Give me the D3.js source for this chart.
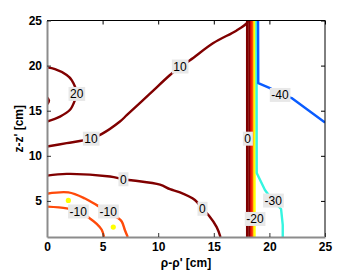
<!DOCTYPE html>
<html>
<head>
<meta charset="utf-8">
<script src="https://cdn.jsdelivr.net/npm/d3@7"></script>
<style>
	body { margin: 0; background: #fff; }
	svg { display: block; font-family: 'Liberation Sans', Arial, sans-serif; }
	.tick text { font-size: 12px; font-weight: bold; fill: #000; }
</style>
</head>
<body>
<svg id="chart" width="346" height="279"></svg>
<script>
// tick labels
var xTicks = [0, 5, 10, 15, 20, 25];
var yTicks = [5, 10, 15, 20, 25];

// contour lines, [rho, z] in cm
var line20 = [[0, 19.8], [0.72, 19.6], [1.77, 18.96], [2.22, 18.4], [2.67, 16.86], [2.52, 16.2], [2.07, 15.1], [1.17, 14.35], [0, 13.8]];
var line20dot = [[0, 16.5], [0.18, 16.1], [0, 15.7]];
var line10 = [[0, 11.03], [1.77, 11.4], [3.96, 11.9], [4.9, 12.4], [6.56, 13.8], [7.17, 14.5], [9.26, 16.9], [11.06, 18.96], [11.96, 19.9], [12.86, 20.6], [14.96, 22.5], [17.06, 23.9], [18.0, 24.75], [18.05, 25]];
var line10band = [[18.0, 25], [18.0, 1]];
var line0 = [[0, 7.8], [1.77, 8.0], [5.67, 7.7], [6.86, 7.4], [7.76, 7.26], [10.16, 6.8], [11.06, 6.3], [11.96, 5.95], [13.3, 5.1], [13.97, 4.13], [14.57, 3.35], [15.26, 2.1], [15.6, 1]];
var line0band = [[18.2, 25], [18.2, 1]];
var lineM5band = [[18.36, 25], [18.36, 1]];
var lineM10a = [[0, 4.37], [1.77, 4.18], [2.88, 3.82], [3.71, 3.2], [4.47, 2.45], [4.92, 1.8], [5.13, 1.0]];
var lineM10b = [[0, 5.8], [1.92, 5.94], [3.42, 5.27], [4.47, 4.53], [5.42, 3.82], [6.27, 3.2], [6.72, 2.72], [7.01, 1.75], [7.26, 1.0]];
var lineM10band = [[18.5, 25], [18.5, 1]];
var lineM20band = [[18.66, 25], [18.66, 1]];
var lineM30 = [[18.84, 25], [18.86, 8.1], [19.6, 6.2], [20.3, 5.05], [21.05, 4.1], [21.2, 2.35], [21.2, 1]];
var lineM40 = [[18.98, 25], [19.0, 18.05], [20.05, 17.5], [20.95, 16.85], [22.0, 16.4], [25, 13.7]];
var spotsM20 = [[1.92, 5.05], [5.96, 2.1]];

var lines = [
	{ level: 20, pts: line20dot, smooth: true },
	{ level: 20, pts: line20, smooth: true },
	{ level: 10, pts: line10, smooth: true },
	{ level: 10, pts: line10band },
	{ level: 0, pts: line0, smooth: true },
	{ level: 0, pts: line0band },
	{ level: -5, pts: lineM5band },
	{ level: -10, pts: lineM10a, smooth: true },
	{ level: -10, pts: lineM10b, smooth: true },
	{ level: -10, pts: lineM10band },
	{ level: -20, pts: lineM20band },
	{ level: -30, pts: lineM30 },
	{ level: -40, pts: lineM40 }
];

// inline contour labels
var labels = [
	{ text: '20', x: 2.67, y: 16.86 },
	{ text: '10', x: 3.96, y: 11.9 },
	{ text: '10', x: 11.96, y: 19.9 },
	{ text: '0', x: 6.86, y: 7.4 },
	{ text: '0', x: 13.97, y: 4.13 },
	{ text: '0', x: 18.05, y: 11.9 },
	{ text: '-10', x: 2.81, y: 3.83 },
	{ text: '-10', x: 5.51, y: 3.83 },
	{ text: '-20', x: 18.7, y: 3.0 },
	{ text: '-30', x: 20.35, y: 5.04 },
	{ text: '-40', x: 20.95, y: 16.75 }
];

var levelColors = { '20': '#800000', '10': '#800000', '0': '#800000', '-5': '#d80808', '-10': '#ff4a0a', '-20': '#ffff00', '-30': '#35f5e0', '-40': '#0a5cff' };

var params = { left: 47, right: 325, top: 20.5, bottom: 237 };

var svg = d3.select('#chart');

var xScale = d3.scaleLinear().domain([0, 25]).range([params.left, params.right]);
var yScale = d3.scaleLinear().domain([1, 25]).range([params.bottom, params.top]);

svg.append('defs').append('clipPath').attr('id', 'plot-clip')
	.append('rect')
		.attr('x', params.left)
		.attr('y', params.top)
		.attr('width', params.right - params.left)
		.attr('height', params.bottom - params.top);

var graphArea = svg.append('g').attr('clip-path', 'url(#plot-clip)');

var lineGen = d3.line()
	.x(function(d) { return xScale(d[0]); })
	.y(function(d) { return yScale(d[1]); });
var smoothGen = d3.line()
	.x(function(d) { return xScale(d[0]); })
	.y(function(d) { return yScale(d[1]); })
	.curve(d3.curveCatmullRom.alpha(0.5));

graphArea.selectAll('.contour').data(lines).enter().append('path')
	.attr('class', 'contour')
	.attr('d', function(d) { return d.smooth ? smoothGen(d.pts) : lineGen(d.pts); })
	.attr('fill', 'none')
	.attr('stroke', function(d) { return levelColors[d.level]; })
	.attr('stroke-width', 2.4)
	.attr('stroke-linejoin', 'round');

graphArea.selectAll('.spot').data(spotsM20).enter().append('circle')
	.attr('cx', function(d) { return xScale(d[0]); })
	.attr('cy', function(d) { return yScale(d[1]); })
	.attr('r', 2.6)
	.attr('fill', levelColors['-20']);

// labels with grey boxes
var labelG = svg.selectAll('.clabel').data(labels).enter().append('g')
	.attr('class', 'clabel')
	.attr('transform', function(d) { return 'translate(' + xScale(d.x) + ',' + yScale(d.y) + ')'; });

labelG.append('text')
	.attr('text-anchor', 'middle')
	.attr('dy', '0.36em')
	.attr('font-size', 12)
	.text(function(d) { return d.text; });

labelG.each(function() {
	var g = d3.select(this);
	var bb = g.select('text').node().getBBox();
	g.insert('rect', 'text')
		.attr('x', bb.x - 1.5)
		.attr('y', -7)
		.attr('width', bb.width + 3)
		.attr('height', 14)
		.attr('fill', '#e8e8e8');
});

// frame
svg.append('line')
	.attr('x1', params.left).attr('x2', params.right)
	.attr('y1', params.top).attr('y2', params.top)
	.attr('stroke', '#000').attr('stroke-width', 1);
svg.append('line')
	.attr('x1', params.right).attr('x2', params.right)
	.attr('y1', params.top).attr('y2', params.bottom)
	.attr('stroke', '#000').attr('stroke-width', 1);

// inward ticks top and right
svg.append('g')
	.attr('transform', 'translate(0,' + params.top + ')')
	.call(d3.axisTop(xScale).tickValues(xTicks).tickSize(-4).tickFormat(''))
	.call(function(g) { g.select('.domain').remove(); });
svg.append('g')
	.attr('transform', 'translate(' + params.right + ',0)')
	.call(d3.axisRight(yScale).tickValues(yTicks).tickSize(-4).tickFormat(''))
	.call(function(g) { g.select('.domain').remove(); });

var bottomAxis = svg.append('g')
	.attr('transform', 'translate(0,' + params.bottom + ')')
	.call(d3.axisBottom(xScale).tickValues(xTicks).tickSize(-4).tickSizeOuter(0).tickPadding(5));
var leftAxis = svg.append('g')
	.attr('transform', 'translate(' + params.left + ',0)')
	.call(d3.axisLeft(yScale).tickValues(yTicks).tickSize(-4).tickSizeOuter(0).tickPadding(5));

[bottomAxis, leftAxis].forEach(function(a) {
	a.select('.domain').attr('stroke', '#8c8c8c').attr('stroke-width', 2);
	a.selectAll('.tick line').attr('stroke', '#333');
});

svg.append('text')
	.attr('x', (params.left + params.right) / 2)
	.attr('y', 267)
	.attr('text-anchor', 'middle')
	.attr('font-size', 12)
	.attr('font-weight', 'bold')
	.text("ρ-ρ' [cm]");

svg.append('text')
	.attr('transform', 'translate(23,' + (params.top + params.bottom) / 2 + ') rotate(-90)')
	.attr('text-anchor', 'middle')
	.attr('font-size', 12)
	.attr('font-weight', 'bold')
	.text("z-z' [cm]");
</script>
</body>
</html>
